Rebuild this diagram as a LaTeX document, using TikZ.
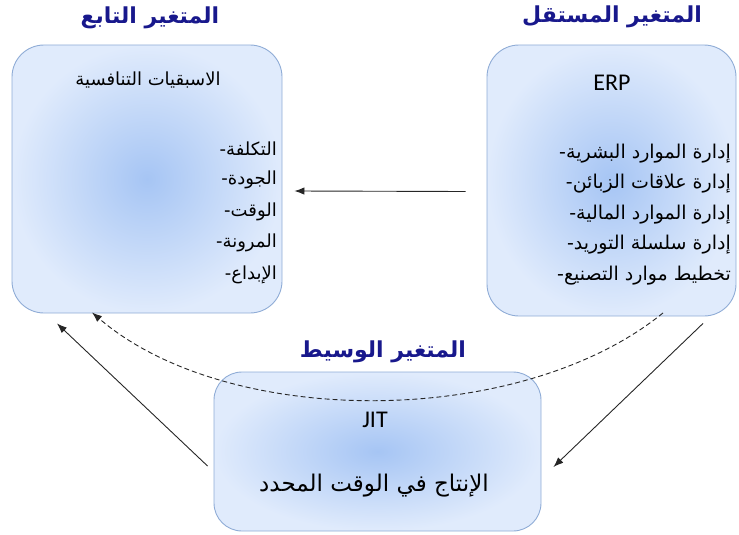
\documentclass[tikz,border=0pt]{standalone}
\usepackage{fontspec}
\setmainfont{Carlito}
\newfontfamily\arabicfont[Script=Arabic]{DejaVu Sans}
\TeXXeTstate=1
\usetikzlibrary{positioning,arrows.meta}

\definecolor{boxedge}{RGB}{143,172,214}
\definecolor{boxin}{RGB}{166,197,244}
\definecolor{boxout}{RGB}{224,235,252}
\definecolor{titleblue}{RGB}{24,24,140}

\tikzset{
  varbox/.style={draw=boxedge, line width=0.9pt, rounded corners=32pt,
    inner color=boxin, outer color=boxout, inner sep=0pt},
  vartitle/.style={text=titleblue, font=\arabicfont\bfseries\fontsize{22}{26}\selectfont},
  itemtext/.style={font=\arabicfont\fontsize{18}{22}\selectfont, inner sep=0pt, anchor=east},
  headtext/.style={font=\fontsize{24}{28}\selectfont, inner sep=0pt},
  arr/.style={-{Latex[length=10pt,width=7.5pt]}, line width=0.9pt, black!85}
}

\begin{document}
\begin{tikzpicture}[x=1pt, y=-1pt]
\useasboundingbox (0,0) rectangle (739,535);
% boxes
\node[varbox, minimum width=270pt, minimum height=268pt] (dep) at (147,179) {};
\node[varbox, minimum width=249pt, minimum height=271pt] (indep) at (611.5,180.5) {};
\node[varbox, minimum width=327pt, minimum height=159pt, rounded corners=28pt] (med) at (377.5,451.5) {};
% titles
\node[vartitle] (deptitle) at (150,18) {\beginR المتغير التابع\endR};
\node[vartitle] (indeptitle) at (612,17) {\beginR المتغير المستقل\endR};
\node[vartitle] (medtitle) at (383,352) {\beginR المتغير الوسيط\endR};
% dependent variable
\node[itemtext, anchor=center] (dephead) at (148,80) {\beginR الاسبقيات التنافسية\endR};
\foreach \txt [count=\i] in {التكلفة, الجودة, الوقت, المرونة, الإبداع}
  \node[itemtext] (dep-\i) at (277, 117+31.5*\i) {\beginR \txt-\endR};
% independent variable
\node[headtext] (erp) at (612,83) {ERP};
\foreach \txt [count=\i] in {إدارة الموارد البشرية, إدارة علاقات الزبائن, إدارة الموارد المالية, إدارة سلسلة التوريد, تخطيط موارد التصنيع}
  \node[itemtext, font=\arabicfont\fontsize{19}{22}\selectfont] (indep-\i) at (731, 123+30.5*\i) {\beginR \txt-\endR};
% mediating variable
\node[headtext] (jit) at (375,420) {JIT};
\node[itemtext, anchor=center, font=\arabicfont\fontsize{23}{27}\selectfont] (jittext) at (374,486) {\beginR الإنتاج في الوقت المحدد\endR};
% arrows
\draw[arr] ([shift={(-21,11)}]indep.west) -- ([shift={(12,12)}]dep.east);
\draw[arr] ([shift={(-6,14.5)}]med.west) -- ([shift={(-90,10)}]dep.south);
\draw[arr] ([shift={(91.5,7)}]indep.south) -- ([shift={(12,15.5)}]med.east);
\draw[arr, dash pattern=on 5pt off 3pt] ([shift={(51.5,-3.5)}]indep.south) .. controls (520,429) and (228,429) .. ([shift={(-55,-1)}]dep.south);
\end{tikzpicture}
\end{document}
